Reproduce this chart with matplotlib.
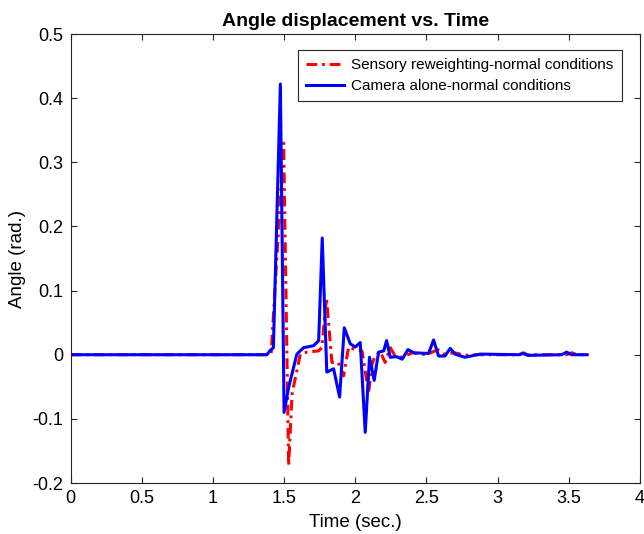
import matplotlib
matplotlib.use("Agg")
import matplotlib.pyplot as plt

plt.rcParams['font.family'] = ['Liberation Sans', 'DejaVu Sans']

# Camera alone-normal conditions (blue, solid)
cam_t = [0.0, 1.38, 1.40, 1.425, 1.474, 1.50, 1.532, 1.59, 1.637, 1.707, 1.743,
         1.768, 1.80, 1.848, 1.89, 1.923, 1.965, 2.0, 2.035, 2.07, 2.10, 2.133,
         2.164, 2.20, 2.22, 2.246, 2.29, 2.33, 2.37, 2.41, 2.515, 2.55, 2.585,
         2.63, 2.667, 2.70, 2.77, 2.877, 3.15, 3.18, 3.21, 3.45, 3.485, 3.52, 3.626]
cam_v = [0.0, 0.0, 0.006, 0.011, 0.422, -0.090, -0.051, 0.001, 0.011, 0.014, 0.022,
         0.182, -0.027, -0.022, -0.066, 0.042, 0.017, 0.012, 0.019, -0.121, -0.004, -0.040,
         0.004, 0.006, 0.022, -0.004, -0.003, -0.007, 0.008, 0.003, 0.002, 0.023, -0.002,
         -0.002, 0.010, 0.001, -0.004, 0.001, 0.0, 0.002, -0.001, 0.0, 0.004, 0.0, 0.0]

# Sensory reweighting-normal conditions (red, dash-dot)
sen_t = [0.0, 1.40, 1.41, 1.497, 1.532, 1.556, 1.614, 1.66, 1.743, 1.765, 1.798,
         1.836, 1.88, 1.918, 1.953, 1.99, 2.047, 2.094, 2.117, 2.14, 2.175, 2.21,
         2.246, 2.28, 2.33, 2.40, 2.50, 2.58, 2.62, 2.70, 2.77, 2.85, 3.15, 3.18,
         3.21, 3.48, 3.52, 3.56, 3.64]
sen_v = [0.0, 0.0, 0.004, 0.330, -0.173, -0.061, 0.001, 0.004, 0.006, 0.011, 0.088,
         -0.012, -0.012, -0.033, 0.012, 0.009, 0.006, -0.059, -0.015, -0.002, 0.005, -0.012,
         0.011, -0.002, -0.004, 0.003, 0.0, 0.008, 0.001, 0.003, -0.001, 0.0, 0.0, 0.003,
         0.0, 0.0, 0.003, 0.0, 0.0]

x_ticks = [0, 0.5, 1, 1.5, 2, 2.5, 3, 3.5, 4]
y_ticks = [-0.2, -0.1, 0, 0.1, 0.2, 0.3, 0.4, 0.5]
x_labels = ['0', '0.5', '1', '1.5', '2', '2.5', '3', '3.5', '4']
y_labels = ['-0.2', '-0.1', '0', '0.1', '0.2', '0.3', '0.4', '0.5']

fig = plt.figure(figsize=(6.44, 5.34), dpi=100)
ax = fig.add_axes([0.1095, 0.0955, 0.9938 - 0.1095, 0.9363 - 0.0955])

ax.plot(sen_t, sen_v, color='#ff0000', linestyle=(0, (3.5, 1.6, 0.9, 1.6)), linewidth=2.2,
        label='Sensory reweighting-normal conditions', zorder=2)
ax.plot(cam_t, cam_v, color='#0000ff', linestyle='-', linewidth=2.2,
        label='Camera alone-normal conditions', zorder=3)

ax.set_xlim(0, 4)
ax.set_ylim(-0.2, 0.5)
ax.set_xticks(x_ticks)
ax.set_xticklabels(x_labels)
ax.set_yticks(y_ticks)
ax.set_yticklabels(y_labels)
ax.tick_params(direction='in', length=4, width=0.8, color='#262626',
               labelsize=13, top=True, right=True, labeltop=False, labelright=False,
               pad=5)
for s in ax.spines.values():
    s.set_color('#262626')
    s.set_linewidth(0.8)

ax.set_title('Angle displacement vs. Time', fontsize=14, fontweight='bold', pad=6)
ax.set_xlabel('Time (sec.)', fontsize=13.5, labelpad=5)
ax.set_ylabel('Angle (rad.)', fontsize=13.5, labelpad=5)

leg = ax.legend(loc='upper right', bbox_to_anchor=(0.968, 0.965), fontsize=11,
                frameon=True, fancybox=False, edgecolor='#262626', framealpha=1,
                handlelength=2.5, borderpad=0.55, labelspacing=0.45, handletextpad=0.45,
                borderaxespad=0)
leg.get_frame().set_linewidth(0.8)

fig.savefig('out.png', dpi=100)
